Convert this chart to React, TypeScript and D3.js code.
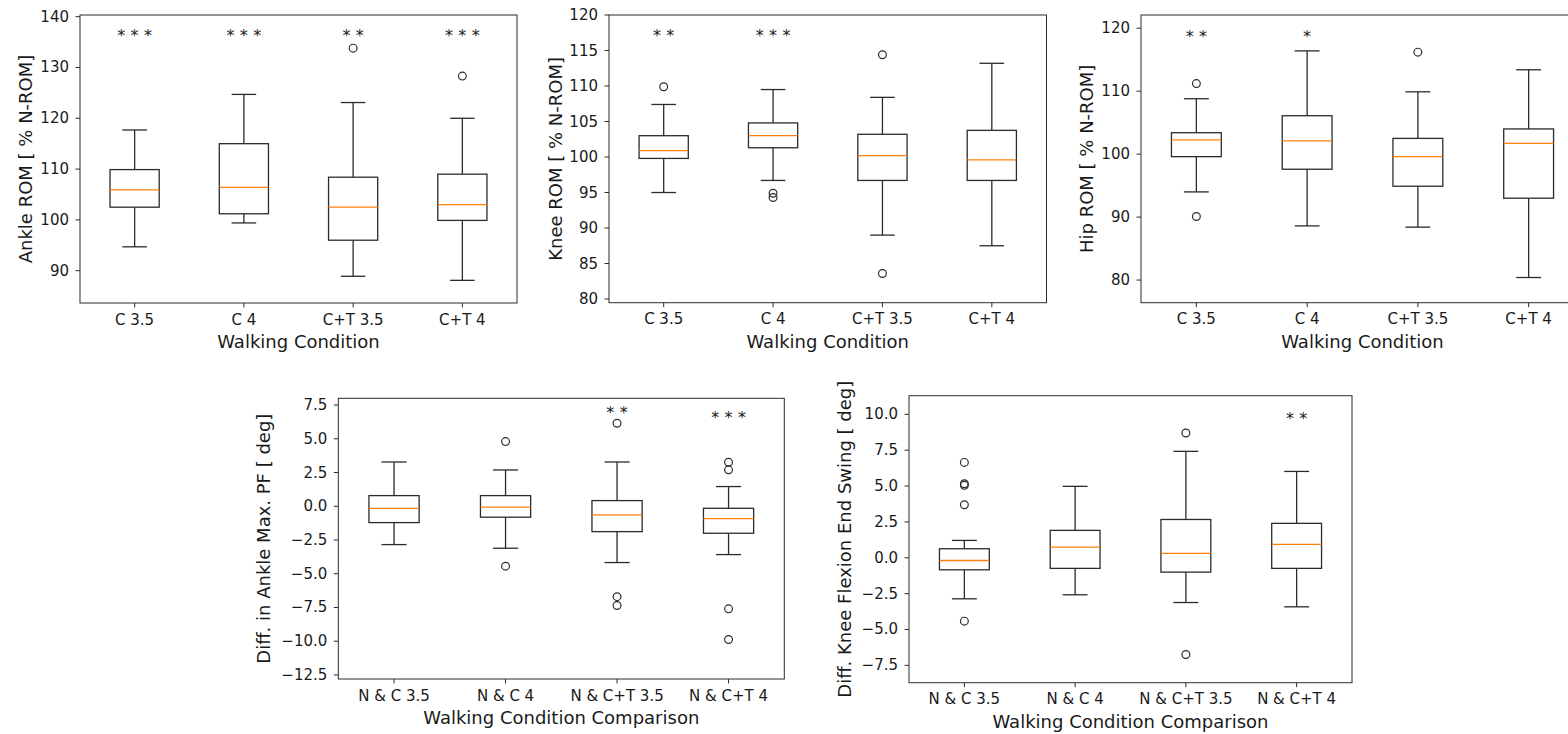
import React from "react";
import * as d3 from "d3";

// ---------- categories ----------
const conditions = ["C 3.5", "C 4", "C+T 3.5", "C+T 4"];
const comparisons = ["N & C 3.5", "N & C 4", "N & C+T 3.5", "N & C+T 4"];

// ---------- Ankle ROM ----------
const ankleLow = [94.7, 99.4, 88.9, 88.1];
const ankleQ1 = [102.5, 101.2, 96.0, 99.9];
const ankleMedian = [105.9, 106.4, 102.5, 103.0];
const ankleQ3 = [109.9, 115.0, 108.4, 109.0];
const ankleHigh = [117.7, 124.7, 123.1, 120.0];
const ankleOutliers = [[], [], [133.8], [128.3]];
const ankleStars = ["***", "***", "**", "***"];
const ankleStarY = [137, 137, 137, 137];
const ankleTicks = [90, 100, 110, 120, 130, 140];

// ---------- Knee ROM ----------
const kneeLow = [95.0, 96.7, 89.0, 87.5];
const kneeQ1 = [99.8, 101.3, 96.7, 96.7];
const kneeMedian = [100.9, 103.0, 100.2, 99.6];
const kneeQ3 = [103.0, 104.8, 103.2, 103.75];
const kneeHigh = [107.4, 109.5, 108.4, 113.2];
const kneeOutliers = [[109.9], [94.9, 94.3], [114.4, 83.6], []];
const kneeStars = ["**", "***", "", ""];
const kneeStarY = [117.6, 117.6, 117.6, 117.6];
const kneeTicks = [80, 85, 90, 95, 100, 105, 110, 115, 120];

// ---------- Hip ROM ----------
const hipLow = [94.0, 88.6, 88.4, 80.4];
const hipQ1 = [99.6, 97.6, 94.9, 93.0];
const hipMedian = [102.25, 102.1, 99.6, 101.7];
const hipQ3 = [103.4, 106.1, 102.5, 104.0];
const hipHigh = [108.8, 116.4, 109.9, 113.4];
const hipOutliers = [[111.2, 90.1], [], [116.2], []];
const hipStars = ["**", "*", "", ""];
const hipStarY = [119.35, 119.35, 119.35, 119.35];
const hipTicks = [80, 90, 100, 110, 120];

// ---------- Diff. Ankle Max PF ----------
const pfLow = [-2.84, -3.11, -4.17, -3.58];
const pfQ1 = [-1.21, -0.81, -1.88, -2.0];
const pfMedian = [-0.15, -0.07, -0.64, -0.91];
const pfQ3 = [0.79, 0.79, 0.42, -0.15];
const pfHigh = [3.28, 2.69, 3.28, 1.46];
const pfOutliers = [[], [4.79, -4.44], [6.15, -6.7, -7.35], [3.26, 2.7, -7.6, -9.87]];
const pfStars = ["", "", "**", "***"];
const pfStarY = [7.2, 7.2, 7.2, 6.83];
const pfTicks = [-12.5, -10, -7.5, -5, -2.5, 0, 2.5, 5, 7.5];

// ---------- Diff. Knee Flexion End Swing ----------
const kfLow = [-2.86, -2.58, -3.12, -3.42];
const kfQ1 = [-0.84, -0.74, -1.0, -0.74];
const kfMedian = [-0.19, 0.74, 0.3, 0.93];
const kfQ3 = [0.63, 1.91, 2.67, 2.4];
const kfHigh = [1.21, 4.98, 7.42, 6.02];
const kfOutliers = [[6.65, 5.16, 5.05, 3.7, -4.42], [], [8.7, -6.74], []];
const kfStars = ["", "", "", "**"];
const kfStarY = [10.0, 10.0, 10.0, 10.0];
const kfTicks = [-7.5, -5, -2.5, 0, 2.5, 5, 7.5, 10];

const FONT = "'DejaVu Sans', sans-serif";
const TEXT = "#1a1a1a";
const LINE = "#2b2b2b";

type PanelProps = {
  left: number; right: number; top: number; bottom: number;
  domain: [number, number];
  ticks: number[]; tickFmt: (v: number) => string;
  cats: string[];
  low: number[]; q1: number[]; med: number[]; q3: number[]; high: number[];
  outliers: number[][]; stars: string[]; starY: number[];
  yLabel: string; xLabel: string; yLabelOffset: number;
};

const fmtInt = (v: number) => d3.format("d")(v);
const fmt1 = (v: number) => d3.format(".1f")(v).replace("-", "\u2212");

function Panel(p: PanelProps) {
  const x = d3.scaleLinear().domain([0.5, p.cats.length + 0.5]).range([p.left, p.right]);
  const y = d3.scaleLinear().domain(p.domain).range([p.bottom, p.top]);
  const unit = x(1) - x(0);
  const bw = 0.45 * unit;
  const cw = bw / 2;
  const tl = 4.5;
  return (
    <g>
      {p.cats.map((c, i) => {
        const cx = x(i + 1);
        return (
          <g key={c}>
            <line x1={cx} x2={cx} y1={y(p.q3[i])} y2={y(p.high[i])} stroke={LINE} strokeWidth={1.3} />
            <line x1={cx} x2={cx} y1={y(p.q1[i])} y2={y(p.low[i])} stroke={LINE} strokeWidth={1.3} />
            <line x1={cx - cw / 2} x2={cx + cw / 2} y1={y(p.high[i])} y2={y(p.high[i])} stroke={LINE} strokeWidth={1.3} />
            <line x1={cx - cw / 2} x2={cx + cw / 2} y1={y(p.low[i])} y2={y(p.low[i])} stroke={LINE} strokeWidth={1.3} />
            <rect x={cx - bw / 2} y={y(p.q3[i])} width={bw} height={y(p.q1[i]) - y(p.q3[i])} fill="none" stroke={LINE} strokeWidth={1.3} />
            <line x1={cx - bw / 2} x2={cx + bw / 2} y1={y(p.med[i])} y2={y(p.med[i])} stroke="#ff7f0e" strokeWidth={1.3} />
            {p.outliers[i].map((o, j) => (
              <circle key={j} cx={cx} cy={y(o)} r={3.9} fill="none" stroke={LINE} strokeWidth={1.2} />
            ))}
            {p.stars[i] && (
              <text x={cx} y={y(p.starY[i])} dy="0.58em" dx={2.7} textAnchor="middle" fontFamily={FONT} fontSize={16} letterSpacing={5.4} fill={TEXT}>
                {p.stars[i]}
              </text>
            )}
          </g>
        );
      })}
      <rect x={p.left} y={p.top} width={p.right - p.left} height={p.bottom - p.top} fill="none" stroke={LINE} strokeWidth={1} />
      {p.ticks.map((t) => (
        <g key={t}>
          <line x1={p.left - tl} x2={p.left} y1={y(t)} y2={y(t)} stroke={LINE} strokeWidth={1} />
          <text x={p.left - tl - 6.5} y={y(t)} textAnchor="end" dominantBaseline="central" fontFamily={FONT} fontSize={15} fill={TEXT}>
            {p.tickFmt(t)}
          </text>
        </g>
      ))}
      {p.cats.map((c, i) => (
        <g key={"xt" + c}>
          <line x1={x(i + 1)} x2={x(i + 1)} y1={p.bottom} y2={p.bottom + tl} stroke={LINE} strokeWidth={1} />
          <text x={x(i + 1)} y={p.bottom + 16.5} textAnchor="middle" dominantBaseline="central" fontFamily={FONT} fontSize={15} fill={TEXT}>
            {c}
          </text>
        </g>
      ))}
      <text x={(p.left + p.right) / 2} y={p.bottom + 38.5} textAnchor="middle" dominantBaseline="central" fontFamily={FONT} fontSize={18} fill={TEXT}>
        {p.xLabel}
      </text>
      <text
        transform={`translate(${p.left - p.yLabelOffset},${(p.top + p.bottom) / 2}) rotate(-90)`}
        textAnchor="middle" dominantBaseline="central" fontFamily={FONT} fontSize={18} fill={TEXT}
      >
        {p.yLabel}
      </text>
    </g>
  );
}

export default function App() {
  return (
    <svg width={1568} height={734} style={{ position: "absolute", left: 0, top: 0, background: "#fff" }}>
      <rect width={1568} height={734} fill="#fff" />
      <Panel left={80} right={517} top={15} bottom={303} domain={[83.64, 140.33]} ticks={ankleTicks} tickFmt={fmtInt}
        cats={conditions} low={ankleLow} q1={ankleQ1} med={ankleMedian} q3={ankleQ3} high={ankleHigh}
        outliers={ankleOutliers} stars={ankleStars} starY={ankleStarY}
        yLabel="Ankle ROM [ % N-ROM]" xLabel="Walking Condition" yLabelOffset={55} />
      <Panel left={609} right={1046.5} top={15} bottom={302.7} domain={[79.48, 120]} ticks={kneeTicks} tickFmt={fmtInt}
        cats={conditions} low={kneeLow} q1={kneeQ1} med={kneeMedian} q3={kneeQ3} high={kneeHigh}
        outliers={kneeOutliers} stars={kneeStars} starY={kneeStarY}
        yLabel="Knee ROM [ % N-ROM]" xLabel="Walking Condition" yLabelOffset={54} />
      <Panel left={1141} right={1584} top={15} bottom={302.7} domain={[76.4, 122.1]} ticks={hipTicks} tickFmt={fmtInt}
        cats={conditions} low={hipLow} q1={hipQ1} med={hipMedian} q3={hipQ3} high={hipHigh}
        outliers={hipOutliers} stars={hipStars} starY={hipStarY}
        yLabel="Hip ROM [ % N-ROM]" xLabel="Walking Condition" yLabelOffset={55} />
      <Panel left={338.3} right={784.3} top={398.3} bottom={679} domain={[-12.8, 8.0]} ticks={pfTicks} tickFmt={fmt1}
        cats={comparisons} low={pfLow} q1={pfQ1} med={pfMedian} q3={pfQ3} high={pfHigh}
        outliers={pfOutliers} stars={pfStars} starY={pfStarY}
        yLabel="Diff. in Ankle Max. PF [ deg]" xLabel="Walking Condition Comparison" yLabelOffset={75} />
      <Panel left={909} right={1352} top={395.7} bottom={682.7} domain={[-8.71, 11.3]} ticks={kfTicks} tickFmt={fmt1}
        cats={comparisons} low={kfLow} q1={kfQ1} med={kfMedian} q3={kfQ3} high={kfHigh}
        outliers={kfOutliers} stars={kfStars} starY={kfStarY}
        yLabel="Diff. Knee Flexion End Swing [ deg]" xLabel="Walking Condition Comparison" yLabelOffset={65} />
    </svg>
  );
}
